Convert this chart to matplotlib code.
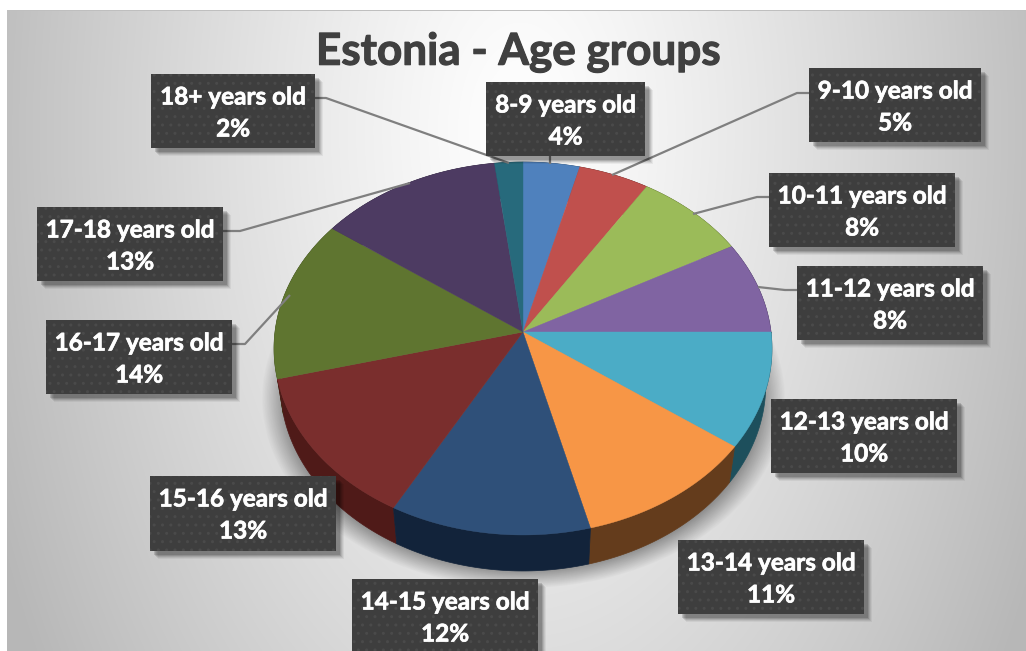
import numpy as np
import matplotlib
matplotlib.use('Agg')
import matplotlib.pyplot as plt
import matplotlib.patheffects as pe
from matplotlib.patches import Rectangle

ages = ['8-9 years old', '9-10 years old', '10-11 years old', '11-12 years old',
        '12-13 years old', '13-14 years old', '14-15 years old', '15-16 years old',
        '16-17 years old', '17-18 years old', '18+ years old']
values = [4, 5, 8, 8, 10, 11, 12, 13, 14, 13, 2]
top_colors = ['#4f81bd', '#c0504d', '#9bbb59', '#8064a2', '#4bacc6', '#f79646',
              '#2f5079', '#7a2e2d', '#5f7530', '#4d3b62', '#276a7c']
side_colors = ['#24405f', '#5a2422', '#47571f', '#3a2c4e', '#1d4f5c', '#643c1c',
               '#12233a', '#4f1a18', '#39461c', '#2c2238', '#143c47']

# label boxes in pixels: left, top, right, bottom
boxes = [(486, 82, 645, 156), (809, 68, 981, 142), (769, 173, 955, 247),
         (797, 266, 983, 340), (771, 399, 957, 473), (678, 540, 864, 614),
         (352, 579, 538, 654), (150, 476, 336, 551), (46, 320, 232, 394),
         (37, 207, 223, 281), (151, 74, 315, 148)]
leaders = [[(550, 156), (550, 164)],
           [(809, 93), (797, 93), (612, 175)],
           [(769, 197), (757, 197), (693, 214)],
           [(797, 290), (785, 290), (758, 287)],
           [(223, 231), (240, 231), (410, 183)],
           [(232, 344), (245, 344), (290, 295)],
           [(315, 98), (326, 98), (509, 163)]]

W, H = 1026, 651
cx, cy = 523, 332
rx, ry, k = 248, 185, 0.0885  # perspective of the tilted disc
depth = 36


def project(deg, r=1.0, shift=0, shrink=1.0):
    # pie angle (matplotlib degrees) -> picture pixels
    a = np.radians(deg)
    u, v = r * np.cos(a), r * np.sin(a)
    d = 1 + k * v
    return cx + rx * shrink * u / d, cy - ry * v / d + shift


fig = plt.figure(figsize=(W / 100, H / 100), dpi=100)
ax = fig.add_axes([0, 0, 1, 1])
ax.axis('off')

# background gradient
yy, xx = np.mgrid[0:H, 0:W]
dist = np.hypot((xx - 520) / 520, (yy - 130) / 900)
level = 1.0 - 0.25 * np.minimum(dist, 1.1) ** 1.2
bg = np.dstack([level] * 3)
bg[:10, :] = 1.0
bg[:, :7] = 1.0
bg[10, 7:] = 0.75
ax.imshow(bg, extent=(0, W, H, 0), aspect='auto', zorder=0)

# soft shadow under the pie
r_sh = np.hypot((xx - 523) / 262, (yy - 398) / 190)
sh = 0.38 * np.clip((1.0 - r_sh) / 0.10, 0, 1)
sh[587:, :] = 0
sh_img = np.zeros((H, W, 4))
sh_img[..., 3] = sh
ax.imshow(sh_img, extent=(0, W, H, 0), aspect='auto', zorder=1)
ax.set_xlim(0, W)
ax.set_ylim(H, 0)

# the pie itself only gives the wedge angles, it gets redrawn in perspective
helper = fig.add_axes([0, 0, 0.01, 0.01])
wedges, _ = helper.pie(values, startangle=90, counterclock=False)
spans = [(w.theta1, w.theta2) for w in wedges]
helper.remove()

order = np.argsort([-project((a + b) / 2)[1] for a, b in spans])[::-1]
for i in order:
    a, b = spans[i]
    t = np.linspace(a, b, 60)
    x1, y1 = project(t)
    x2, y2 = project(t[::-1], shift=depth, shrink=0.975)
    ax.fill(np.r_[x1, x2], np.r_[y1, y2], color=side_colors[i], lw=0.5, zorder=2)

for i, (a, b) in enumerate(spans):
    t = np.linspace(a, b, 60)
    x1, y1 = project(t)
    ax.fill(np.r_[cx, x1], np.r_[cy, y1], color=top_colors[i], lw=0.3, zorder=3)

for pts in leaders:
    ax.plot(*zip(*pts), color='#7f7f7f', lw=1.6, zorder=4, solid_capstyle='butt')

bold_white = [pe.withStroke(linewidth=0.5, foreground='white')]
for name, val, (l, t, r, b) in zip(ages, values, boxes):
    for off, al in [(8, 0.05), (7, 0.07), (6, 0.09), (5, 0.12), (4, 0.14)]:
        ax.add_patch(Rectangle((l + off, t + off), r - l, b - t, fc='black', ec='none',
                               alpha=al, zorder=5))
    ax.add_patch(Rectangle((l, t), r - l, b - t, fc='#3e3e3e', ec='#4a4a4a', lw=0,
                           hatch='..', zorder=6))
    mid = (l + r) / 2
    ax.text(mid, t + 23, name, color='white', fontsize=17.5, fontweight='bold',
            family='Lato', ha='center', va='center', zorder=7, path_effects=bold_white)
    ax.text(mid, t + 55, '%d%%' % val, color='white', fontsize=17.5, fontweight='bold',
            family='Lato', ha='center', va='center', zorder=7, path_effects=bold_white)

ax.text(518, 52, 'Estonia - Age groups', color='#404040', fontsize=31.7, fontweight='bold',
        family='Lato', ha='center', va='center', zorder=4,
        path_effects=[pe.withStroke(linewidth=0.8, foreground='#404040')])

fig.savefig('out.png', dpi=100)
